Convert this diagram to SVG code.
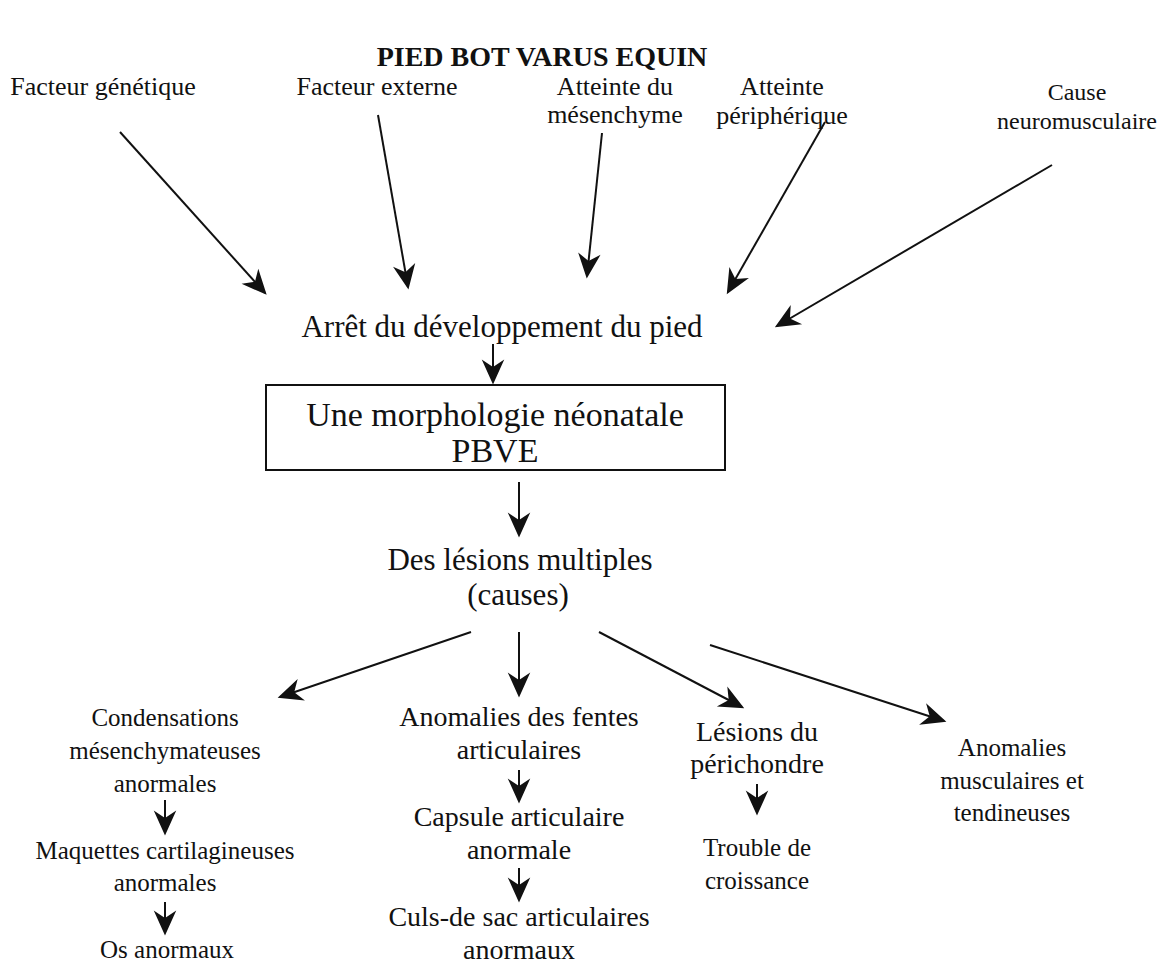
<svg xmlns="http://www.w3.org/2000/svg" width="1157" height="964" viewBox="0 0 1157 964">
<defs>
<marker id="ah" markerUnits="userSpaceOnUse" markerWidth="30" markerHeight="30" viewBox="-20 -10 24 20" refX="0" refY="0" orient="auto">
<path d="M2,0 L-18,-9 L-12,0 L-18,9 Z" fill="#111"/>
</marker>
</defs>
<style>
text{font-family:"Liberation Serif","Times New Roman",serif;fill:#111;text-anchor:middle}
.t{font-size:28px;font-weight:bold}
.s{font-size:26px}
.m{font-size:31px}
.x{font-size:34px}
.b{font-size:25px}
.b2{font-size:28px}
.c line{stroke:#111;stroke-width:2;marker-end:url(#ah)}
</style>
<rect width="1157" height="964" fill="#fff"/>
<g id="title"><text class="t" x="542" y="66">PIED BOT VARUS EQUIN</text></g>
<g id="n1"><text class="s" x="103" y="95">Facteur génétique</text></g>
<g id="n2"><text class="s" x="377" y="95">Facteur externe</text></g>
<g id="n3"><text class="s" x="615" y="95">Atteinte du</text><text class="s" x="615" y="123">mésenchyme</text></g>
<g id="n4"><text class="s" x="782" y="95">Atteinte</text><text class="s" x="782" y="124">périphérique</text></g>
<g id="n5"><text class="s" x="1077" y="100" style="font-size:24px">Cause</text><text class="s" x="1077" y="129" style="font-size:24px">neuromusculaire</text></g>
<g id="n6"><text class="m" x="502" y="337">Arrêt du développement du pied</text></g>
<g id="n7"><rect x="266" y="385" width="459" height="85" fill="none" stroke="#111" stroke-width="2"/><text class="x" x="495" y="426">Une morphologie néonatale</text><text class="x" x="495" y="462">PBVE</text></g>
<g id="n8"><text class="m" x="520" y="570">Des lésions multiples</text><text class="m" x="518" y="605">(causes)</text></g>
<g id="n9"><text class="b" x="165" y="726">Condensations</text><text class="b" x="165" y="759">mésenchymateuses</text><text class="b" x="165" y="792">anormales</text></g>
<g id="n10"><text class="b" x="165" y="859">Maquettes cartilagineuses</text><text class="b" x="165" y="891">anormales</text></g>
<g id="n11"><text class="b" x="167" y="958">Os anormaux</text></g>
<g id="n12"><text class="b2" x="519" y="726">Anomalies des fentes</text><text class="b2" x="519" y="759">articulaires</text></g>
<g id="n13"><text class="b2" x="519" y="826">Capsule articulaire</text><text class="b2" x="519" y="859">anormale</text></g>
<g id="n14"><text class="b2" x="519" y="926">Culs-de sac articulaires</text><text class="b2" x="519" y="959">anormaux</text></g>
<g id="n15"><text class="b2" x="757" y="741">Lésions du</text><text class="b2" x="757" y="773">périchondre</text></g>
<g id="n16"><text class="b" x="757" y="856">Trouble de</text><text class="b" x="757" y="889">croissance</text></g>
<g id="n17"><text class="b" x="1012" y="756">Anomalies</text><text class="b" x="1012" y="789">musculaires et</text><text class="b" x="1012" y="821">tendineuses</text></g>
<g class="c" id="connectors">
<line x1="120" y1="132" x2="265" y2="293"/>
<line x1="378" y1="115" x2="408" y2="287"/>
<line x1="602" y1="133" x2="587" y2="276"/>
<line x1="825" y1="122" x2="728" y2="292"/>
<line x1="1052" y1="165" x2="777" y2="326"/>
<line x1="493" y1="344" x2="493" y2="382"/>
<line x1="519" y1="482" x2="519" y2="535"/>
<line x1="471" y1="632" x2="280" y2="697"/>
<line x1="519" y1="632" x2="519" y2="695"/>
<line x1="599" y1="632" x2="742" y2="707"/>
<line x1="710" y1="645" x2="944" y2="721"/>
<line x1="165" y1="800" x2="165" y2="833"/>
<line x1="165" y1="902" x2="165" y2="933"/>
<line x1="519" y1="770" x2="519" y2="801"/>
<line x1="519" y1="868" x2="519" y2="900"/>
<line x1="757" y1="784" x2="757" y2="813"/>
</g>
</svg>
